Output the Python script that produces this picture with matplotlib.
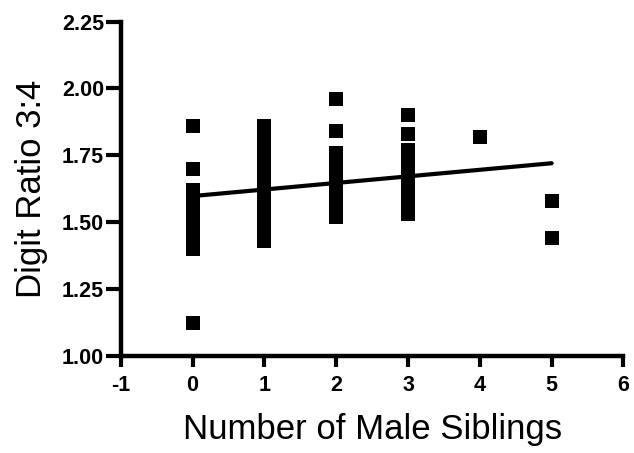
import matplotlib.pyplot as plt

plt.rcParams['font.family'] = ['Liberation Sans', 'DejaVu Sans']
plt.rcParams['axes.unicode_minus'] = False

# digit ratio readings grouped by number of male siblings
sibs_0 = [1.86, 1.70, 1.62, 1.60, 1.58, 1.56, 1.54, 1.52, 1.50, 1.48, 1.46,
          1.44, 1.42, 1.40, 1.12]
sibs_1 = [1.86, 1.84, 1.82, 1.80, 1.78, 1.76, 1.74, 1.72, 1.70, 1.68, 1.66,
          1.64, 1.62, 1.60, 1.58, 1.56, 1.54, 1.52, 1.50, 1.48, 1.46, 1.44,
          1.43]
sibs_2 = [1.96, 1.84, 1.76, 1.74, 1.72, 1.70, 1.68, 1.66, 1.64, 1.62, 1.60,
          1.58, 1.56, 1.54, 1.52]
sibs_3 = [1.90, 1.83, 1.77, 1.75, 1.73, 1.71, 1.69, 1.67, 1.65, 1.63, 1.61,
          1.59, 1.57, 1.55, 1.53]
sibs_4 = [1.82]
sibs_5 = [1.58, 1.44]
groups = [sibs_0, sibs_1, sibs_2, sibs_3, sibs_4, sibs_5]

# fitted regression line
fit_x = [0, 5]
fit_y = [1.597, 1.720]

fig = plt.figure(figsize=(6.34, 4.53), dpi=100)
ax = fig.add_axes([0.1904, 0.2152, 0.793, 0.7369])

for n, vals in enumerate(groups):
    ax.plot([n] * len(vals), vals, 's', color='black', markersize=9.6,
            markeredgewidth=0, linestyle='none')

ax.plot(fit_x, fit_y, color='black', linewidth=3.0, solid_capstyle='round')

ax.set_xlim(-1, 6)
ax.set_ylim(1.0, 2.25)
ax.set_xticks(range(-1, 7))
ax.set_yticks([1.00, 1.25, 1.50, 1.75, 2.00, 2.25])
ax.set_yticklabels(['1.00', '1.25', '1.50', '1.75', '2.00', '2.25'])

for side in ['top', 'right']:
    ax.spines[side].set_visible(False)
for side in ['left', 'bottom']:
    ax.spines[side].set_linewidth(3.2)
    ax.spines[side].set_capstyle('projecting')

ax.tick_params(direction='out', width=3.0, labelsize=15.5)
ax.tick_params(axis='y', length=11, pad=1)
ax.tick_params(axis='x', length=8, pad=6)
for lab in ax.get_xticklabels() + ax.get_yticklabels():
    lab.set_fontweight('bold')

ax.set_xlabel('Number of Male Siblings', fontsize=25, labelpad=12)
ax.set_ylabel('Digit Ratio 3:4', fontsize=25, labelpad=10)

fig.savefig('out.png', dpi=100)
